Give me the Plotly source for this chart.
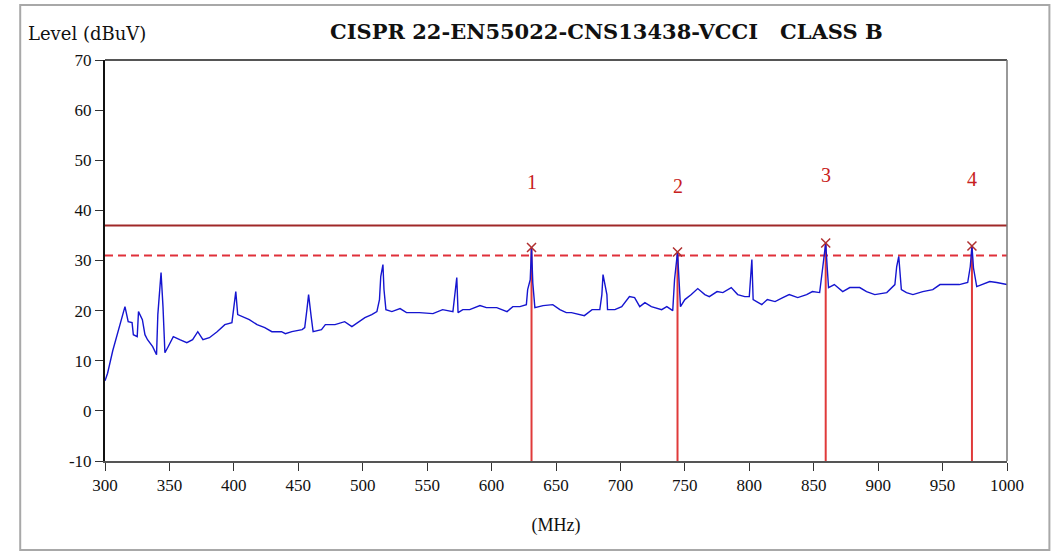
import plotly.graph_objects as go

# ---- data ----
freq_mhz = [300, 302, 306, 310, 313, 315.5, 318, 321, 322, 325, 326, 329, 331, 333, 337, 340, 341, 343.5,
            345, 346.5, 349, 353, 358, 363.5, 368, 372, 376, 381, 387, 393, 398.5, 400, 401.5, 403, 407,
            412, 418, 424, 429.5, 437, 440, 445, 453, 455, 456.7, 458, 460, 461.5, 468, 471, 478.5, 486,
            491.6, 496, 501.7, 507, 511, 513, 514, 515.7, 516.5, 518, 522.6, 529, 534, 539, 544, 554.5,
            562, 570, 571.5, 573, 574, 577.7, 583, 591, 596, 604, 612, 616.5, 622, 627, 628, 630, 631,
            632, 633.6, 640, 647.5, 653, 658, 662, 672, 678, 684, 685.6, 686.5, 689.5, 690, 695.7, 701,
            707, 711, 715, 719, 724, 732, 736, 740.6, 742, 744.3, 745.5, 746.6, 750, 755, 760, 765.5,
            769, 775, 779.5, 786, 791, 796.5, 800, 801, 802, 803, 809.7, 814, 820, 826, 831, 837.6,
            844.5, 849, 854.6, 857, 859.3, 860.5, 861.5, 866, 872.5, 878, 885.7, 891, 897.4, 906.7,
            913, 914.4, 916, 918, 922, 927, 934.6, 942.4, 948, 955.5, 963, 969.5, 971.5, 972.8, 974,
            976.5, 981, 986.6, 992, 1000]
level_dbuv = [6.0, 7.5, 12.0, 15.5, 18.2, 20.8, 17.8, 17.6, 15.2, 14.8, 19.8, 18.2, 15.2, 14.2, 12.8, 11.2,
              19.2, 27.6, 20.8, 11.6, 12.8, 14.8, 14.2, 13.6, 14.2, 15.8, 14.2, 14.6, 15.8, 17.2, 17.6,
              20.8, 23.8, 19.2, 18.8, 18.2, 17.2, 16.6, 15.8, 15.8, 15.4, 15.8, 16.2, 16.6, 20.2, 23.2,
              18.8, 15.8, 16.2, 17.2, 17.2, 17.8, 16.8, 17.6, 18.6, 19.2, 19.8, 22.2, 26.8, 29.2, 24.2,
              20.2, 19.8, 20.4, 19.6, 19.6, 19.6, 19.4, 20.2, 19.8, 22.8, 26.6, 19.6, 20.2, 20.2, 21.0,
              20.6, 20.6, 19.8, 20.8, 20.8, 21.2, 24.2, 26.2, 32.6, 25.5, 20.6, 21.0, 21.2, 20.2, 19.6,
              19.6, 19.0, 20.2, 20.2, 23.2, 27.2, 23.2, 20.2, 20.2, 20.8, 22.8, 22.6, 20.8, 21.6, 20.8,
              20.2, 20.8, 20.0, 26.2, 31.7, 26.0, 20.8, 22.2, 23.2, 24.4, 23.2, 22.8, 23.8, 23.6, 24.6,
              23.2, 22.8, 22.8, 26.2, 30.2, 22.2, 21.2, 22.2, 21.8, 22.6, 23.2, 22.6, 23.2, 23.8, 23.6,
              28.6, 33.5, 28.5, 24.6, 25.2, 23.8, 24.6, 24.6, 23.8, 23.2, 23.6, 25.2, 28.8, 30.8, 24.2,
              23.6, 23.2, 23.8, 24.2, 25.2, 25.2, 25.2, 25.6, 28.8, 32.9, 28.5, 24.8, 25.2, 25.8, 25.6,
              25.2]

limit_freq = [300, 1000]
limit_level = [37, 37]
margin_level = [31, 31]

marker_labels = ["1", "2", "3", "4"]
marker_freq = [631, 744.3, 859.3, 972.8]
marker_level = [32.6, 31.7, 33.5, 32.9]
marker_label_y = [45.6, 44.8, 47.0, 46.2]

x_ticks = [300, 350, 400, 450, 500, 550, 600, 650, 700, 750, 800, 850, 900, 950, 1000]
y_ticks = [-10, 0, 10, 20, 30, 40, 50, 60, 70]
y_tick_text = ["-10", "0", "10", "20", "30", "40", "50", "60", "70"]

SERIF = "Liberation Serif"
WIDE_SERIF = "DejaVu Serif"

fig = go.Figure()

# marker vertical lines
for f, lv in zip(marker_freq, marker_level):
    fig.add_trace(go.Scatter(x=[f, f], y=[-10, lv], mode="lines",
                             line=dict(color="#e03a3a", width=2), hoverinfo="skip", showlegend=False))

# limit lines
fig.add_trace(go.Scatter(x=limit_freq, y=limit_level, mode="lines",
                         line=dict(color="#a02828", width=2), showlegend=False))
fig.add_trace(go.Scatter(x=limit_freq, y=margin_level, mode="lines",
                         line=dict(color="#e0303a", width=2, dash="8px,5px"), showlegend=False))

# spectrum trace
fig.add_trace(go.Scatter(x=freq_mhz, y=level_dbuv, mode="lines",
                         line=dict(color="#1515d0", width=1.4), showlegend=False))

# marker crosses
fig.add_trace(go.Scatter(x=marker_freq, y=marker_level, mode="markers",
                         marker=dict(symbol="x-thin-open", size=9, color="#b03030",
                                     line=dict(color="#b03030", width=1.5)),
                         showlegend=False))

# marker labels
for lab, f, ly in zip(marker_labels, marker_freq, marker_label_y):
    fig.add_annotation(x=f, y=ly, text=lab, showarrow=False,
                       font=dict(family=SERIF, size=20, color="#c82020"))

# texts
fig.add_annotation(xref="paper", yref="paper", x=-0.088, y=1.035, xanchor="left", yanchor="bottom",
                   text="Level (dBuV)", showarrow=False, font=dict(family=WIDE_SERIF, size=18, color="#111"))
fig.add_annotation(xref="paper", yref="paper", x=0.556, y=1.035, xanchor="center", yanchor="bottom",
                   text="<b>CISPR 22-EN55022-CNS13438-VCCI &nbsp; CLASS B</b>", showarrow=False,
                   font=dict(family=WIDE_SERIF, size=21, color="#111"))

# outer frame
fig.add_shape(type="rect", xref="paper", yref="paper", x0=-0.094, x1=1.047, y0=-0.222, y1=1.137,
              line=dict(color="#a8a8a8", width=2), layer="below")

fig.update_layout(
    width=1058, height=552,
    margin=dict(l=105, r=51, t=60, b=91),
    paper_bgcolor="white", plot_bgcolor="white",
    xaxis=dict(range=[300, 1000], tickvals=x_ticks, ticks="outside", ticklen=8, tickcolor="#333",
               showgrid=False, zeroline=False, showline=True, linecolor="#555", linewidth=2, mirror=False,
               tickfont=dict(family=SERIF, size=17, color="#111"),
               title=dict(text="(MHz)", font=dict(family=SERIF, size=18, color="#111"), standoff=24)),
    yaxis=dict(range=[-10, 70], tickvals=y_ticks, ticktext=y_tick_text, ticks="outside", ticklen=8,
               tickcolor="#333", showgrid=False, zeroline=False, showline=True, linecolor="#111", linewidth=2,
               tickfont=dict(family=SERIF, size=17, color="#111")),
)

# top and right plot borders
fig.add_shape(type="line", xref="paper", yref="paper", x0=0, x1=1, y0=1, y1=1,
              line=dict(color="#555", width=2))
fig.add_shape(type="line", xref="paper", yref="paper", x0=1, x1=1, y0=0, y1=1,
              line=dict(color="#777", width=1.5))

fig.write_html("out.html")
